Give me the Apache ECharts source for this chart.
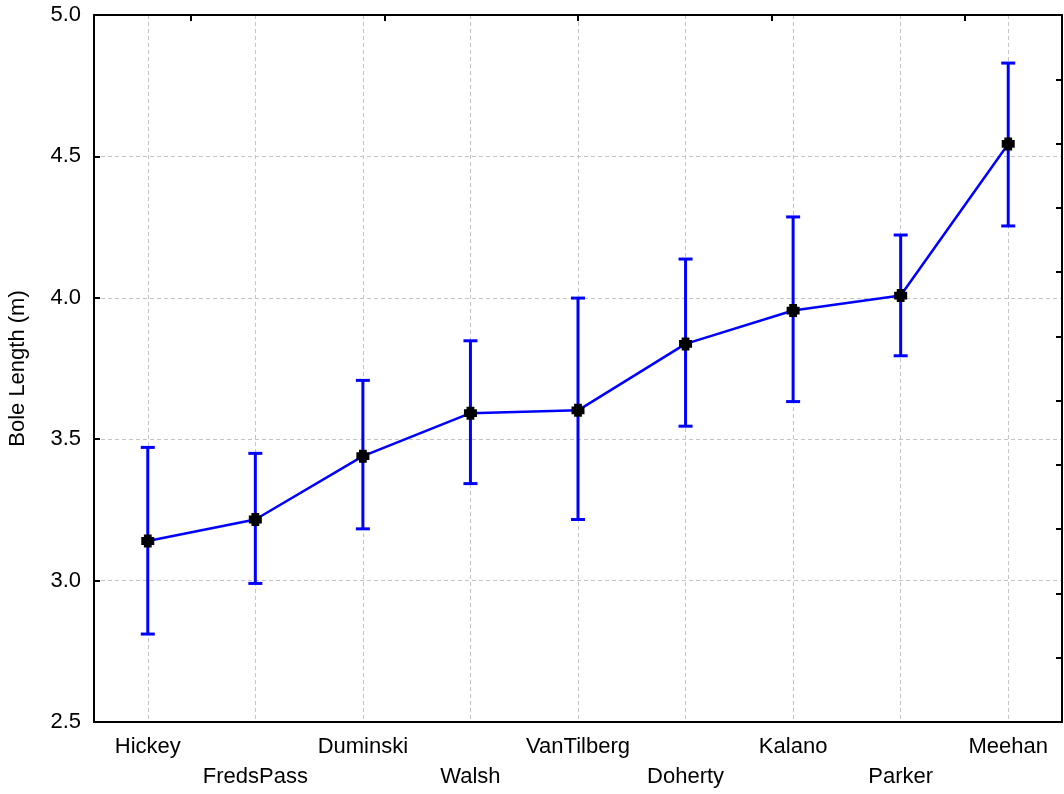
<!DOCTYPE html>
<html>
<head>
<meta charset="utf-8">
<script src="https://cdn.jsdelivr.net/npm/echarts@6/dist/echarts.min.js"></script>
<style>
  html, body { margin: 0; padding: 0; background: #fff; }
  #chart { width: 1064px; height: 794px; }
</style>
</head>
<body>
<div id="chart"></div>
<script>
// sites, ordered by mean bole length
const sites = ['Hickey', 'FredsPass', 'Duminski', 'Walsh', 'VanTilberg', 'Doherty', 'Kalano', 'Parker', 'Meehan'];
const means = [3.14, 3.216, 3.44, 3.592, 3.602, 3.837, 3.955, 4.008, 4.544];
const upper = [3.471, 3.45, 3.708, 3.848, 3.999, 4.137, 4.286, 4.222, 4.830];
const lower = [2.811, 2.99, 3.183, 3.343, 3.216, 3.546, 3.633, 3.795, 4.254];

const blue = '#0000ff';
const font = 'Liberation Sans, Arial, sans-serif';
const frame = { show: true, lineStyle: { color: '#000', width: 2 } };
const tick = { color: '#000', width: 2 };
const dash = { show: true, lineStyle: { color: '#c4c4c4', type: [4, 3], width: 1 } };

// half-category slots, used only to put the vertical grid lines under each site
const halfSlots = [];
for (let k = 0; k <= sites.length * 2; k++) halfSlots.push(String(k));

let chart = echarts.init(document.getElementById('chart'));

let option = {
  animation: false,
  grid: { left: 94, right: 2, top: 15, bottom: 72, outerBoundsMode: 'none', containLabel: false },
  xAxis: [
    {
      type: 'category',
      position: 'bottom',
      data: sites,
      boundaryGap: true,
      z: 20,
      axisLine: frame,
      axisTick: { inside: true, alignWithLabel: true, length: 6, lineStyle: tick },
      axisLabel: {
        interval: 0,
        color: '#000',
        fontFamily: font,
        fontSize: 22,
        lineHeight: 30,
        margin: 10,
        formatter(v, i) { return i % 2 ? '\n' + v : v; }
      },
      splitLine: { show: false }
    },
    {
      type: 'value',
      position: 'top',
      min: 0,
      max: 10,
      z: 20,
      axisLine: frame,
      axisTick: { inside: true, length: 6, customValues: [1, 3, 5, 7, 9], lineStyle: tick },
      axisLabel: { show: false },
      splitLine: { show: false }
    },
    {
      type: 'category',
      position: 'bottom',
      data: halfSlots,
      boundaryGap: false,
      z: 0,
      axisLine: { show: false },
      axisTick: { show: false },
      axisLabel: { show: false },
      splitLine: Object.assign({ interval: (i) => i % 2 === 1 }, dash)
    }
  ],
  yAxis: [
    {
      type: 'value',
      position: 'left',
      min: 2.5,
      max: 5,
      interval: 0.5,
      z: 0,
      name: 'Bole Length (m)',
      nameLocation: 'middle',
      nameGap: 65,
      nameTextStyle: { color: '#000', fontFamily: font, fontSize: 22 },
      axisLine: frame,
      axisTick: { inside: true, length: 6, lineStyle: tick },
      axisLabel: {
        color: '#000',
        fontFamily: font,
        fontSize: 22,
        margin: 13,
        formatter(v) { return v.toFixed(1); }
      },
      splitLine: dash
    },
    {
      type: 'value',
      position: 'right',
      min: 0,
      max: 11,
      interval: 1,
      z: 20,
      axisLine: frame,
      axisTick: { show: true, inside: true, length: 6, lineStyle: tick },
      axisLabel: { show: false },
      splitLine: { show: false }
    }
  ],
  series: [
    {
      name: 'whiskers',
      type: 'custom',
      xAxisIndex: 0,
      yAxisIndex: 0,
      z: 10,
      data: sites.map((s, i) => [i, lower[i], upper[i]]),
      renderItem(params, api) {
        let lo = api.coord([api.value(0), api.value(1)]);
        let hi = api.coord([api.value(0), api.value(2)]);
        let cap = 7;
        let st = { stroke: blue, lineWidth: 3, fill: null };
        return {
          type: 'group',
          children: [
            { type: 'line', shape: { x1: lo[0], y1: lo[1], x2: hi[0], y2: hi[1] }, style: st },
            { type: 'line', shape: { x1: hi[0] - cap, y1: hi[1], x2: hi[0] + cap, y2: hi[1] }, style: st },
            { type: 'line', shape: { x1: lo[0] - cap, y1: lo[1], x2: lo[0] + cap, y2: lo[1] }, style: st }
          ]
        };
      }
    },
    {
      name: 'mean',
      type: 'line',
      xAxisIndex: 0,
      yAxisIndex: 0,
      z: 11,
      data: means,
      symbol: 'path://M2,0H8V2H10V8H8V10H2V8H0V2H2Z',
      symbolSize: 13,
      lineStyle: { color: blue, width: 2.5 },
      itemStyle: { color: '#000' }
    }
  ]
};

chart.setOption(option);
</script>
</body>
</html>
